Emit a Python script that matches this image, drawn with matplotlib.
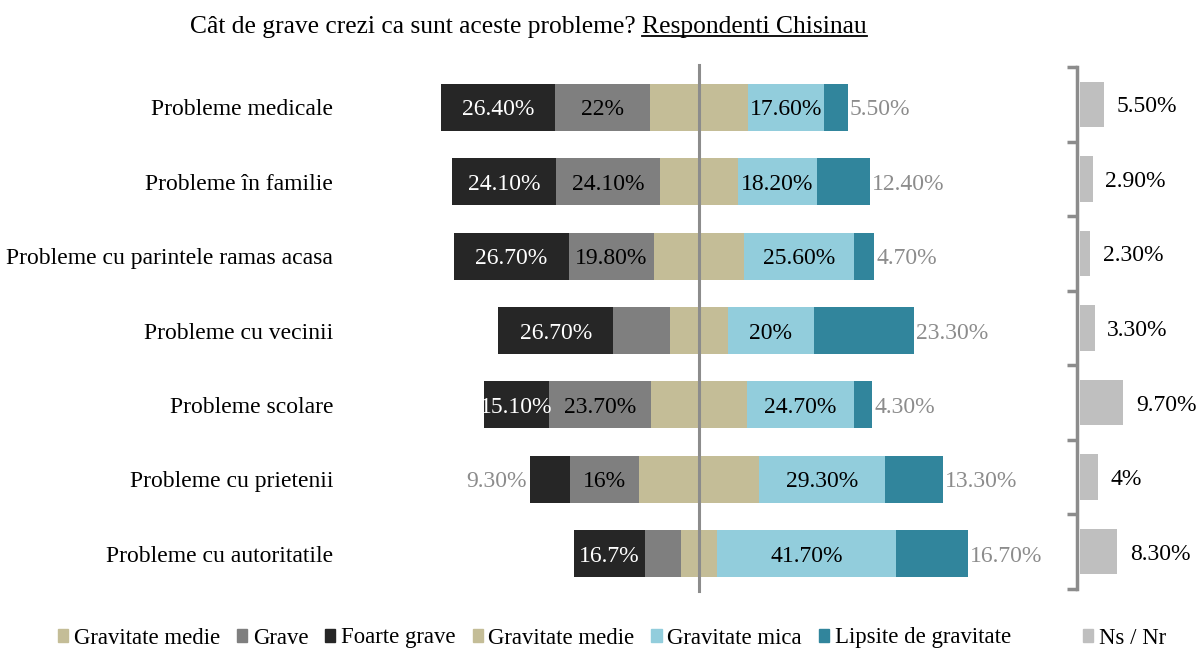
import matplotlib
matplotlib.use('Agg')
import matplotlib.pyplot as plt
from matplotlib.patches import Patch
from matplotlib.lines import Line2D

plt.rcParams['font.family'] = ['Liberation Serif', 'DejaVu Serif']

categories = ['Probleme medicale', 'Probleme în familie', 'Probleme cu parintele ramas acasa',
              'Probleme cu vecinii', 'Probleme scolare', 'Probleme cu prietenii',
              'Probleme cu autoritatile']
foarte_grave = [26.4, 24.1, 26.7, 26.7, 15.1, 9.3, 16.7]
grave = [22.0, 24.1, 19.8, 13.3, 23.7, 16.0, 8.3]
medie = [23.0, 18.3, 20.9, 13.3, 22.5, 28.1, 8.3]
mica = [17.6, 18.2, 25.6, 20.0, 24.7, 29.3, 41.7]
lipsite = [5.5, 12.4, 4.7, 23.3, 4.3, 13.3, 16.7]
ns_nr = [5.5, 2.9, 2.3, 3.3, 9.7, 4.0, 8.3]

foarte_labels = ['26.40%', '24.10%', '26.70%', '26.70%', '15.10%', '9.30%', '16.7%']
grave_labels = ['22%', '24.10%', '19.80%', '', '23.70%', '16%', '']
mica_labels = ['17.60%', '18.20%', '25.60%', '20%', '24.70%', '29.30%', '41.70%']
lipsite_labels = ['5.50%', '12.40%', '4.70%', '23.30%', '4.30%', '13.30%', '16.70%']
ns_labels = ['5.50%', '2.90%', '2.30%', '3.30%', '9.70%', '4%', '8.30%']

c_foarte = '#262626'
c_grave = '#7f7f7f'
c_medie = '#c4bd97'
c_mica = '#92cddc'
c_lipsite = '#31859c'
c_ns = '#bfbfbf'
c_out = '#8c8c8c'

W, H = 1200, 650
fig = plt.figure(figsize=(12, 6.5), dpi=100)

# main diverging chart, zero line at x=699 px, ~4.3 px per percent
px = 4.3
ax_l, ax_r = 350, 1040
top, bot = 70, 591
ax = fig.add_axes([ax_l / W, 1 - bot / H, (ax_r - ax_l) / W, (bot - top) / H])
ax.set_xlim(-(699 - ax_l) / px, (ax_r - 699) / px)
ax.set_ylim(len(categories) - 0.5, -0.5)

y = list(range(len(categories)))
h = 0.63
left_start = [-(f + g + m / 2) for f, g, m in zip(foarte_grave, grave, medie)]
grave_start = [s + f for s, f in zip(left_start, foarte_grave)]
medie_start = [s + g for s, g in zip(grave_start, grave)]
mica_start = [m / 2 for m in medie]
lips_start = [s + m for s, m in zip(mica_start, mica)]

ax.barh(y, foarte_grave, left=left_start, height=h, color=c_foarte)
ax.barh(y, grave, left=grave_start, height=h, color=c_grave)
ax.barh(y, medie, left=medie_start, height=h, color=c_medie)
ax.barh(y, mica, left=mica_start, height=h, color=c_mica)
ax.barh(y, lipsite, left=lips_start, height=h, color=c_lipsite)

fs = 17
va = 'center_baseline'
for i in y:
    if foarte_grave[i] < 10:
        ax.text(left_start[i] - 0.7, i, foarte_labels[i], ha='right', va=va,
                color=c_out, fontsize=fs)
    else:
        ax.text(left_start[i] + foarte_grave[i] / 2, i, foarte_labels[i], ha='center',
                va=va, color='white', fontsize=fs)
    if grave_labels[i]:
        ax.text(grave_start[i] + grave[i] / 2, i, grave_labels[i], ha='center',
                va=va, color='black', fontsize=fs)
    ax.text(mica_start[i] + mica[i] / 2, i, mica_labels[i], ha='center', va=va,
            color='black', fontsize=fs)
    ax.text(lips_start[i] + lipsite[i] + 0.5, i, lipsite_labels[i], ha='left',
            va=va, color=c_out, fontsize=fs, clip_on=False)

# zero line, running slightly above the first bar like the original
ax.plot([0, 0], [-0.57, len(categories) - 0.5], color='#8c8c8c', lw=2.2, clip_on=False)
ax.set_yticks(y)
ax.set_yticklabels(categories, fontsize=fs)
ax.tick_params(axis='y', length=0, pad=12)
ax.set_xticks([])
for s in ax.spines.values():
    s.set_visible(False)

# Ns / Nr panel
px2 = 4.5
ax2_l = 1077
top2, bot2 = 67, 589
ax2 = fig.add_axes([ax2_l / W, 1 - bot2 / H, (W - ax2_l) / W, (bot2 - top2) / H])
ax2.set_xlim(0, (W - ax2_l) / px2)
ax2.set_ylim(len(categories) - 0.5, -0.5)
ax2.barh(y, ns_nr, height=0.61, color=c_ns, left=0.6)
for i in y:
    ax2.text(ns_nr[i] + 3.4, i, ns_labels[i], ha='left', va=va, color='black',
             fontsize=fs, clip_on=False)
ax2.set_yticks([k - 0.5 for k in range(len(categories) + 1)])
ax2.set_yticklabels([])
ax2.tick_params(axis='y', length=7, width=2.5, color='#8c8c8c', direction='out')
ax2.set_xticks([])
for k, s in ax2.spines.items():
    s.set_visible(k == 'left')
ax2.spines['left'].set_color('#8c8c8c')
ax2.spines['left'].set_linewidth(2.5)

# legends
lfs = 16.4
handles = [Patch(color=c_medie), Patch(color=c_grave), Patch(color=c_foarte),
           Patch(color=c_medie), Patch(color=c_mica), Patch(color=c_lipsite)]
names = ['Gravitate medie', 'Grave', 'Foarte grave', 'Gravitate medie',
         'Gravitate mica', 'Lipsite de gravitate']
fig.legend(handles, names, loc='center left', bbox_to_anchor=(58 / W, 1 - 638 / H),
           ncol=6, frameon=False, fontsize=lfs, handlelength=0.45, handleheight=0.45,
           handletextpad=0.25, columnspacing=0.74, borderpad=0, borderaxespad=0)
fig.legend([Patch(color=c_ns)], ['Ns / Nr'], loc='center left',
           bbox_to_anchor=(1083 / W, 1 - 638 / H), frameon=False, fontsize=lfs,
           handlelength=0.45, handleheight=0.45, handletextpad=0.25, borderpad=0,
           borderaxespad=0)

# title with underlined second part
tfs = 18.4
t1 = fig.text(190 / W, 1 - 27 / H, 'Cât de grave crezi ca sunt aceste probleme? ',
              ha='left', va='center', fontsize=tfs)
fig.canvas.draw()
r = fig.canvas.get_renderer()
bb1 = t1.get_window_extent(r)
t2 = fig.text(bb1.x1 / W, 1 - 27 / H, 'Respondenti Chisinau', ha='left', va='center',
              fontsize=tfs)
fig.canvas.draw()
bb2 = t2.get_window_extent(r)
uy = (bb2.y0 + 2) / H
fig.add_artist(Line2D([bb2.x0 / W, bb2.x1 / W], [uy, uy], color='black', lw=1.3,
                      transform=fig.transFigure))

fig.savefig('out.png', dpi=100)
